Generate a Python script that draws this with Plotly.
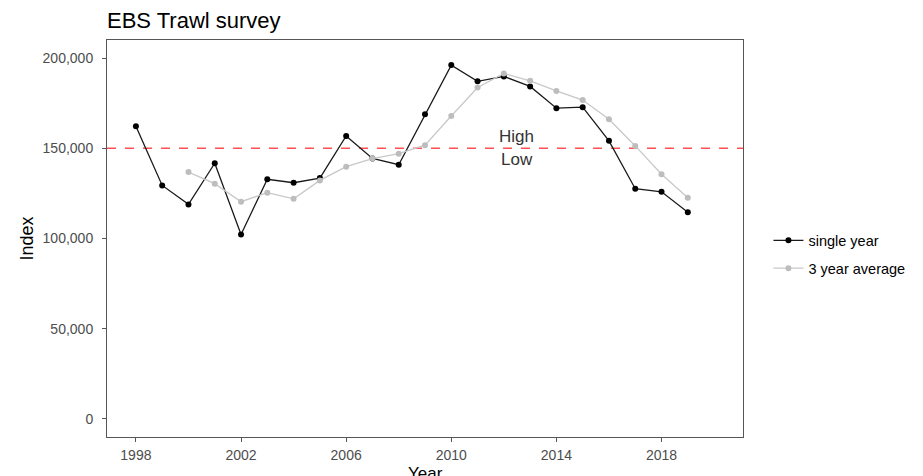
import plotly.graph_objects as go

# Survey index by year
years = list(range(1998, 2020))
single_year = [162200, 129400, 118900, 141700, 102200, 132800, 130900, 133500,
               156800, 144400, 140900, 168900, 196100, 187100, 189800, 184300,
               172200, 172800, 154100, 127600, 125900, 114600]

avg_years = list(range(2000, 2020))
three_year_avg = [136800, 130400, 120400, 125400, 122000, 132200, 139800, 144300,
                  147000, 151700, 167900, 183700, 191500, 187400, 181800, 176700,
                  166100, 151300, 135600, 122600]

threshold = 150000
label_year = 2012.5
x_ticks = [1998, 2002, 2006, 2010, 2014, 2018]
y_ticks = [0, 50000, 100000, 150000, 200000]

FONT = "Liberation Sans, Arial, sans-serif"

fig = go.Figure()

fig.add_trace(go.Scatter(
    x=years, y=single_year, mode="lines+markers", name="single year",
    legendgroup="a",
    line=dict(color="#1a1a1a", width=1.3),
    marker=dict(color="#000000", size=6),
))
fig.add_trace(go.Scatter(
    x=avg_years, y=three_year_avg, mode="lines+markers", name="3 year average",
    legendgroup="b",
    line=dict(color="#c8c8c8", width=1.3),
    marker=dict(color="#bdbdbd", size=6),
))

fig.add_shape(type="line", xref="paper", x0=0, x1=1, yref="y", y0=threshold, y1=threshold,
              line=dict(color="rgba(255,50,50,0.85)", width=1.5, dash="dash"), layer="below")

fig.add_annotation(x=label_year, y=threshold, text="High", showarrow=False,
                   yanchor="bottom", yshift=0, font=dict(family=FONT, size=17, color="#333333"))
fig.add_annotation(x=label_year, y=threshold, text="Low", showarrow=False,
                   yanchor="top", yshift=0, font=dict(family=FONT, size=17, color="#333333"))

# x-axis title just below the tick labels, at the bottom edge
fig.add_annotation(xref="paper", yref="paper", x=0.5, y=-0.062, yanchor="top",
                   text="Year", showarrow=False,
                   font=dict(family=FONT, size=17, color="#000000"))

axis_common = dict(showgrid=False, zeroline=False, showline=True, mirror=True,
                   linecolor="#555555", linewidth=1, ticks="outside", ticklen=4,
                   tickcolor="#555555", automargin=False,
                   tickfont=dict(family=FONT, size=14, color="#4d4d4d"))

fig.update_layout(
    width=923, height=476,
    margin=dict(l=107, r=180, t=40, b=39),
    paper_bgcolor="white", plot_bgcolor="white",
    font=dict(family=FONT),
    title=dict(text="EBS Trawl survey", x=107 / 923, xanchor="left", y=0.957, yanchor="middle",
               font=dict(family=FONT, size=22, color="#000000")),
    xaxis=dict(range=[1996.9, 2021.1], tickvals=x_ticks, ticklabelstandoff=1,
               **axis_common),
    yaxis=dict(range=[-10000, 210000], tickvals=y_ticks, tickformat=",", ticklabelstandoff=6,
               title=dict(text="Index", font=dict(family=FONT, size=18, color="#000000"), standoff=4),
               **axis_common),
    legend=dict(x=1.04, xanchor="left", y=0.46, yanchor="middle",
                font=dict(family=FONT, size=14.5, color="#000000"),
                bgcolor="rgba(0,0,0,0)", itemwidth=30,
                traceorder="grouped", tracegroupgap=6),
    showlegend=True,
)

fig.write_html("out.html")
